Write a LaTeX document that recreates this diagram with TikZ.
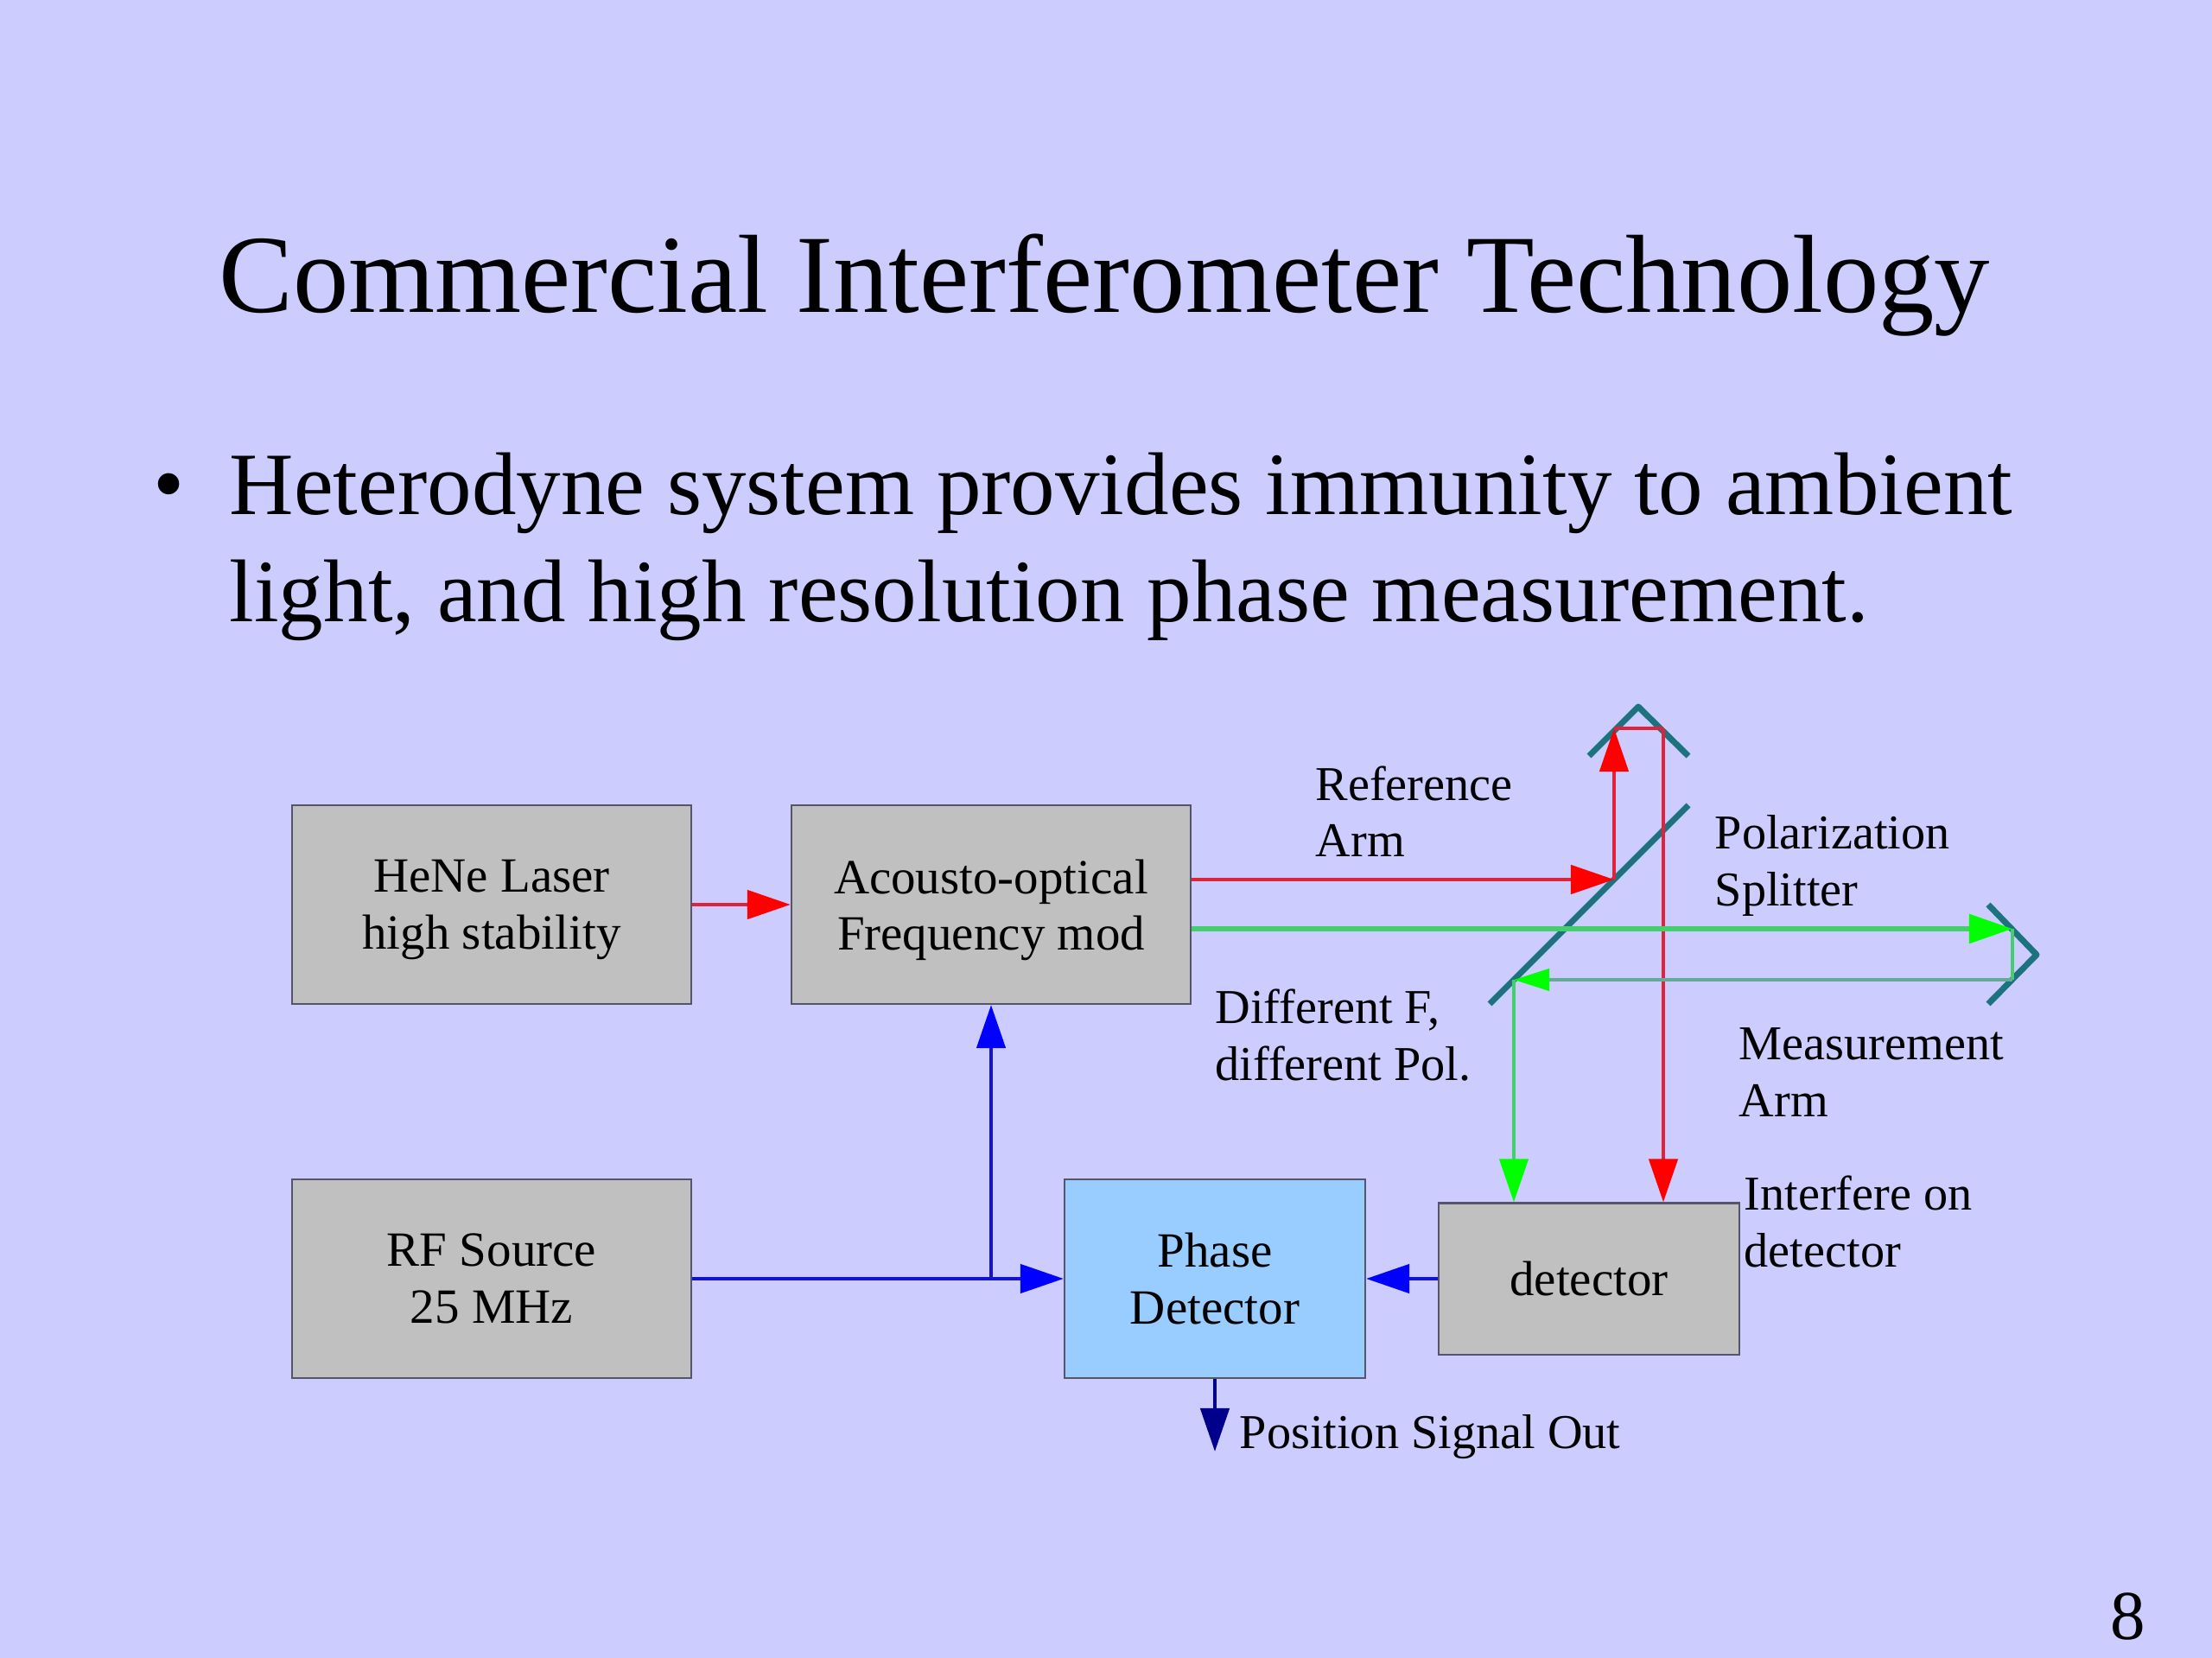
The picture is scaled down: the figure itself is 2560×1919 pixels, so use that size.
\documentclass[tikz,border=0pt]{standalone}
\usepackage{fontspec}
\setmainfont{Liberation Serif}
\usetikzlibrary{arrows.meta}
\definecolor{slidebg}{RGB}{204,204,255}
\definecolor{boxgray}{RGB}{192,192,192}
\definecolor{boxblue}{RGB}{153,204,255}
\definecolor{edgegray}{RGB}{85,85,105}
\definecolor{mirrorteal}{RGB}{28,114,126}
\definecolor{linered}{RGB}{222,36,58}
\definecolor{linegreen}{RGB}{70,205,110}
\definecolor{linereturn}{RGB}{100,170,150}
\definecolor{lineblue}{RGB}{20,20,205}
\definecolor{headnavy}{RGB}{0,0,140}
\begin{document}
\begin{tikzpicture}
[x=0.01cm,y=-0.01cm,
 blockbox/.style={draw=edgegray,line width=0.6pt,fill=boxgray,align=center,inner sep=0pt,
   font=\fontsize{16.2}{18.6}\selectfont},
 mirror/.style={draw=mirrorteal,line width=2pt,line join=round},
 redbeam/.style={draw=linered,line width=1.3pt},
 greenbeam/.style={draw=linegreen,line width=1.3pt},
 bluebeam/.style={draw=lineblue,line width=1.3pt},
 redhead/.style={redbeam,-{Triangle[length=0.5cm,width=0.33cm,color=red]}},
 greenhead/.style={greenbeam,-{Triangle[length=0.5cm,width=0.33cm,color=green]}},
 returnhead/.style={draw=linereturn,line width=1.2pt,-{Triangle[length=0.41cm,width=0.25cm,color=green]}},
 bluehead/.style={bluebeam,-{Triangle[length=0.5cm,width=0.33cm,color=blue]}},
 navyhead/.style={bluebeam,draw=headnavy,-{Triangle[length=0.5cm,width=0.33cm,color=headnavy]}},
 note/.style={align=left,inner sep=0pt,anchor=west,font=\fontsize{16}{18.6}\selectfont}]
\fill[slidebg] (0,0) rectangle (2560,1919);
\path[use as bounding box] (0,0) rectangle (2560,1919);
%% title and bullet
\node[inner sep=0pt,anchor=base,font=\fontsize{36.6}{36.6}\selectfont] (title) at (1278,362) {Commercial Interferometer Technology};
\node[inner sep=0pt,font=\fontsize{29.3}{29.3}\selectfont] (bullet) at (196,571) {\textbullet};
\node[inner sep=0pt,anchor=west,align=left,font=\fontsize{29.3}{35.3}\selectfont] (body) at (265,633)
  {Heterodyne system provides immunity to ambient\\light, and high resolution phase measurement.};
\node[inner sep=0pt,font=\fontsize{23}{23}\selectfont] (pagenum) at (2463,1871) {8};
%% the blocks
\node[blockbox,minimum width=4.62cm,minimum height=2.30cm] (laser) at (569,1047) {HeNe Laser\\\smash{high stability}};
\node[blockbox,minimum width=4.62cm,minimum height=2.30cm] (modulator) at (1147,1047) {Acousto-optical\\\smash{Frequency mod}};
\node[blockbox,minimum width=4.62cm,minimum height=2.30cm] (source) at (569,1480) {RF Source\\25 MHz};
\node[blockbox,fill=boxblue,minimum width=3.48cm,minimum height=2.30cm] (phase) at (1406,1480) {Phase\\Detector};
\node[blockbox,minimum width=3.47cm,minimum height=1.75cm] (detector) at (1839,1480) {detector};
%% the optics
\coordinate (roofleft) at (1868,843);
\coordinate (roofright) at (1925,843);
\coordinate (cornerupper) at (2329,1075);
\coordinate (cornerlower) at (2329,1134);
\coordinate (splitupper) at (1868,1018);
\coordinate (splitlower) at (1752,1134);
\coordinate (signalend) at (1406,1680);
\draw[mirror] (1839,875) -- (1896,818) -- (1954,875);
\draw[mirror] (2301,1047) -- (2357,1105) -- (2301,1162);
\draw[mirror] (1724,1162) -- (1954,932);
%% the beams
\draw[redhead] (laser) -- (modulator);
\draw[redhead] (modulator.east |- splitupper) -- (splitupper);
\draw[redhead] (splitupper) -- (roofleft);
\draw[redbeam] (roofleft) -- (roofright);
\draw[redhead] (roofright) -- (roofright |- detector.north);
\draw[greenhead,line width=1.6pt] (modulator.east |- cornerupper) -- (cornerupper);
\draw[greenbeam] (cornerupper) -- (cornerlower);
\draw[returnhead] (cornerlower) -- (splitlower);
\draw[greenhead] (splitlower) -- (splitlower |- detector.north);
%% the signals
\draw[bluehead] (source) -- (phase);
\draw[bluehead] (modulator |- source) -- (modulator);
\draw[bluehead] (detector) -- (phase);
\draw[navyhead] (phase) -- (signalend);
%% labels
\node[note] (reflabel) at (1522,939) {Reference\\Arm};
\node[note] (splitlabel) at (1984,1002) {Polarization\\Splitter};
\node[note] (difflabel) at (1406,1198) {Different F,\\different Pol.};
\node[note] (measlabel) at (2012,1241) {Measurement\\Arm};
\node[note] (interlabel) at (2018,1414) {Interfere on\\detector};
\node[note] (poslabel) at (1434,1663) {Position Signal Out};
\end{tikzpicture}
\end{document}
